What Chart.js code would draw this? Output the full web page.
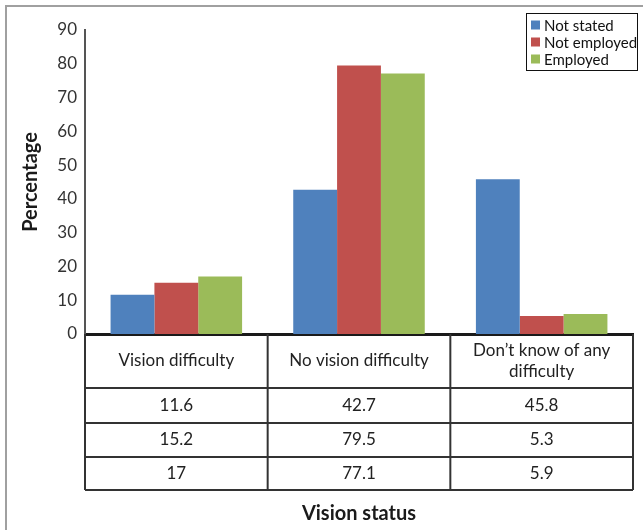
<!DOCTYPE html>
<html>
<head>
<meta charset="utf-8">
<script src="https://cdn.jsdelivr.net/npm/chart.js@4.4.0/dist/chart.umd.min.js"></script>
<style>
  html, body { margin: 0; padding: 0; background: #fff; }
</style>
</head>
<body>
<canvas id="vision" width="643" height="530"></canvas>
<script>
var categories = ['Vision difficulty', 'No vision difficulty', ['Don\u2019t know of any', 'difficulty']];
var seriesNames = ['Not stated', 'Not employed', 'Employed'];
var notStated = [11.6, 42.7, 45.8];
var notEmployed = [15.2, 79.5, 5.3];
var employed = [17, 77.1, 5.9];
var colors = ['#4F81BD', '#C0504D', '#9BBB59'];

var FONT = 'Lato, "Open Sans", sans-serif';

// grey frame round the whole figure, data table under the axis, boxed legend
var tablePlugin = {
  id: 'frameTable',
  beforeDraw: function (chart) {
    var ctx = chart.ctx;
    ctx.save();
    ctx.fillStyle = '#fff';
    ctx.fillRect(0, 0, chart.width, chart.height);
    ctx.strokeStyle = '#a0a0a0';
    ctx.lineWidth = 2;
    ctx.strokeRect(6, 6, chart.width + 10, chart.height + 10);
    ctx.restore();
  },
  afterDraw: function (chart) {
    var ctx = chart.ctx;
    var area = chart.chartArea;
    var x = chart.scales.x;
    var half = (x.getPixelForValue(1) - x.getPixelForValue(0)) / 2;
    var rows = [54, 35, 34, 33];
    var top = area.bottom;
    var bottom = top + rows.reduce(function (a, b) { return a + b; }, 0);

    ctx.save();
    ctx.strokeStyle = '#333';
    ctx.lineWidth = 2;
    // horizontal lines
    var y = top;
    for (var r = 0; r < rows.length; r++) {
      y += rows[r];
      ctx.beginPath();
      ctx.moveTo(area.left, y);
      ctx.lineTo(area.right, y);
      ctx.stroke();
    }
    // vertical lines
    var xs = [area.left];
    for (var i = 0; i < categories.length - 1; i++) xs.push(x.getPixelForValue(i) + half);
    xs.push(area.right);
    xs.forEach(function (px) {
      ctx.beginPath();
      ctx.moveTo(px, top);
      ctx.lineTo(px, bottom);
      ctx.stroke();
    });

    ctx.fillStyle = '#222';
    ctx.textAlign = 'center';
    ctx.textBaseline = 'middle';
    ctx.font = '17px ' + FONT;
    var rowTops = [top];
    for (var k = 0; k < rows.length - 1; k++) rowTops.push(rowTops[k] + rows[k]);
    chart.data.labels.forEach(function (lab, c) {
      var cx = x.getPixelForValue(c);
      var lines = Array.isArray(lab) ? lab : [lab];
      var cy = rowTops[0] + rows[0] / 2;
      lines.forEach(function (ln, j) {
        ctx.fillText(ln, cx, cy + (j - (lines.length - 1) / 2) * 21);
      });
      chart.data.datasets.forEach(function (ds, d) {
        ctx.fillText(String(ds.data[c]), cx, rowTops[d + 1] + rows[d + 1] / 2);
      });
    });

    // legend
    var lx = 526, ly = 13, lw = 111, lh = 57;
    ctx.fillStyle = '#fff';
    ctx.fillRect(lx, ly, lw, lh);
    ctx.strokeStyle = '#111';
    ctx.lineWidth = 1;
    ctx.strokeRect(lx + 0.5, ly + 0.5, lw, lh);
    ctx.textAlign = 'left';
    ctx.font = '15px ' + FONT;
    chart.data.datasets.forEach(function (ds, d) {
      var cy = ly + 12 + d * 17;
      ctx.fillStyle = ds.backgroundColor;
      ctx.fillRect(lx + 5, cy - 4.5, 9, 9);
      ctx.fillStyle = '#111';
      ctx.fillText(ds.label, lx + 18, cy + 1);
    });
    ctx.restore();
  }
};

new Chart(document.getElementById('vision'), {
  type: 'bar',
  data: {
    labels: categories,
    datasets: [
      { label: seriesNames[0], data: notStated, backgroundColor: colors[0] },
      { label: seriesNames[1], data: notEmployed, backgroundColor: colors[1] },
      { label: seriesNames[2], data: employed, backgroundColor: colors[2] }
    ]
  },
  options: {
    responsive: false,
    animation: false,
    devicePixelRatio: 1,
    datasets: { bar: { barPercentage: 1, categoryPercentage: 0.72 } },
    layout: { padding: { top: 30, right: 10, left: 0, bottom: 0 } },
    scales: {
      x: {
        grid: { display: false, drawTicks: false },
        ticks: { display: false },
        border: { color: '#1a1a1a', width: 3 },
        title: {
          display: true,
          text: 'Vision status',
          color: '#1a1a1a',
          font: { family: FONT, size: 20, weight: 'bold' },
          padding: { top: 168, bottom: 4 }
        }
      },
      y: {
        min: 0,
        max: 90,
        ticks: { stepSize: 10, color: '#333', font: { family: FONT, size: 17 }, padding: 8 },
        grid: { display: false, drawTicks: false },
        border: { color: '#555', width: 2 },
        title: {
          display: true,
          text: 'Percentage',
          color: '#1a1a1a',
          font: { family: FONT, size: 20, weight: 'bold' },
          padding: { top: 19, bottom: 0 }
        },
        afterFit: function (s) { s.width = 85; }
      }
    },
    plugins: {
      legend: { display: false },
      tooltip: { enabled: false }
    }
  },
  plugins: [tablePlugin]
});
</script>
</body>
</html>
